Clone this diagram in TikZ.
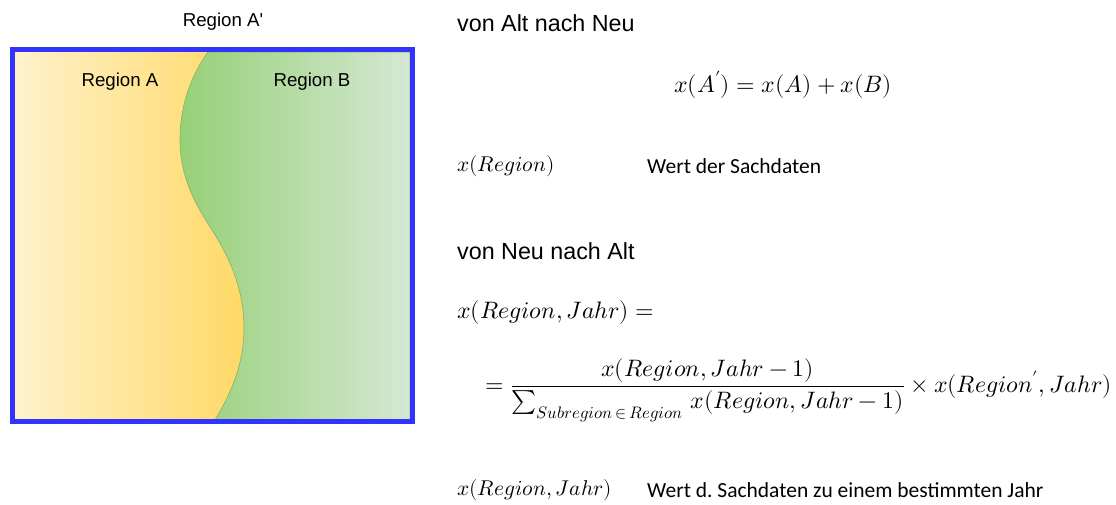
\documentclass[tikz,border=0pt]{standalone}
\usepackage{unicode-math}
\setmainfont{Liberation Sans}
\newfontfamily\calibri{Carlito}
\usepackage{tikz}
\definecolor{rimblue}{HTML}{3333FF}
\definecolor{yelA}{HTML}{FFF2CC}
\definecolor{yelB}{HTML}{FFD966}
\definecolor{grnA}{HTML}{97D077}
\definecolor{grnB}{HTML}{D5E8D4}
\definecolor{grnLine}{HTML}{82B366}

\begin{document}
\begin{tikzpicture}[x=1pt,y=-1pt,
  lbl/.style={font=\fontsize{18.7}{22}\selectfont, inner sep=0pt},
  head/.style={font=\fontsize{23.3}{27}\selectfont, anchor=west, inner sep=0pt},
  eqn/.style={font=\fontsize{23.8}{28}\selectfont, inner sep=0pt},
  sym/.style={font=\fontsize{21.4}{25}\selectfont, anchor=west, inner sep=0pt},
  note/.style={font=\calibri\fontsize{21.5}{25}\selectfont, anchor=west, inner sep=0pt}]
\useasboundingbox (0,0) rectangle (1116,504);
% left: region A' split into A and B
\shade[left color=yelA, right color=yelB] (15,52) -- (208,52)
  .. controls (188,80) and (180,110) .. (180,140)
  .. controls (180,180) and (198,208) .. (212,230)
  .. controls (230,258) and (244,290) .. (244,328)
  .. controls (244,368) and (228,398) .. (215,420) -- (15,420) -- cycle;
\shade[left color=grnA, right color=grnB, draw=grnLine, semithick] (215,420)
  .. controls (228,398) and (244,368) .. (244,328)
  .. controls (244,290) and (230,258) .. (212,230)
  .. controls (198,208) and (180,180) .. (180,140)
  .. controls (180,110) and (188,80) .. (208,52) -- (410,52) -- (410,420) -- cycle;
\draw[rimblue, line width=5] (12.5,49.5) rectangle (412.5,421.5);
\node[lbl] (topA) at (223,22) {Region A\textquotesingle};
\node[lbl] (regA) at (120,82) {Region A};
\node[lbl] (regB) at (312,82) {Region B};
% right: formulas
\node[head] (altneu) at (457,23) {von Alt nach Neu};
\node[eqn] (sumeq) at (783,85) {$x(A')=x(A)+x(B)$};
\node[sym] (xreg) at (457,166) {$x(Region)$};
\node[note] (wert) at (647,166) {Wert der Sachdaten};
\node[head] (neualt) at (457,251) {von Neu nach Alt};
\node[eqn, anchor=west] (xrj) at (457,313) {$x(Region,Jahr) =$};
\node[eqn, anchor=west] (ratio) at (485,390)
  {$\displaystyle =\frac{x(Region,Jahr-1)}{\sum_{Subregion\,\in\,Region}\, x(Region,Jahr-1)}\times x(Region',Jahr)$};
\node[sym] (xrj2) at (457,490) {$x(Region,Jahr)$};
\node[note] (wertj) at (647,490) {Wert d.\ Sachdaten zu einem bestimmten Jahr};
\end{tikzpicture}
\end{document}
